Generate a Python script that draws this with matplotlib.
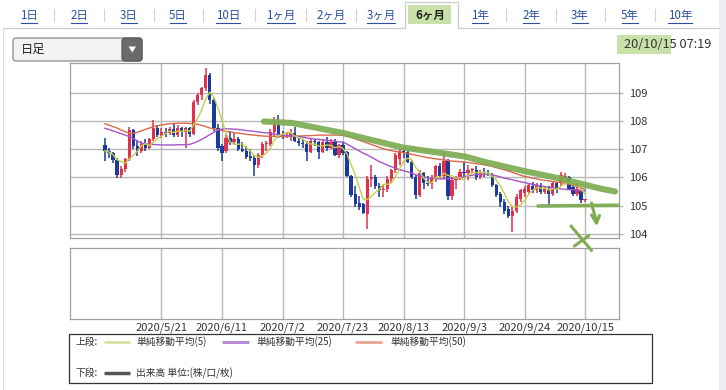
import numpy as np
import pandas as pd
import matplotlib
matplotlib.use("Agg")
import matplotlib.pyplot as plt
from matplotlib.patches import Rectangle, FancyBboxPatch, Polygon

plt.rcParams['font.family'] = ['Noto Sans CJK JP', 'DejaVu Sans']

# ---------------- data ----------------
dates = pd.bdate_range('2020-05-01', '2020-10-15')
opens = [107.15,106.95,106.85,106.62,106.10,106.30,106.65,107.68,107.12,106.92,
         107.20,107.05,107.35,107.75,107.52,107.62,107.58,107.72,107.52,107.75,
         107.60,107.75,107.55,108.68,108.92,109.15,109.62,108.75,107.75,107.10,
         106.92,107.38,107.25,107.35,107.02,106.95,106.75,106.70,106.45,106.78,
         107.18,107.20,107.60,107.90,107.50,107.45,107.45,107.58,107.30,107.22,
         107.20,106.90,107.30,107.25,106.90,107.25,107.05,107.25,106.80,107.15,
         106.90,106.05,105.40,105.10,105.05,104.72,105.95,106.00,105.70,105.55,
         105.60,105.95,106.25,106.65,106.92,106.90,106.55,106.02,105.38,106.15,
         105.80,105.78,105.95,106.40,106.05,106.60,105.35,105.90,105.95,106.20,
         106.15,106.25,106.28,106.00,106.20,106.15,106.10,105.72,105.40,105.15,
         104.90,104.65,104.83,105.25,105.45,105.50,105.70,105.55,105.70,105.49,
         105.60,105.40,105.79,105.80,106.00,106.02,105.67,105.43,105.55,105.19]
highs = [107.40,107.05,106.90,106.68,106.40,106.70,107.78,107.72,107.33,107.30,
         107.35,107.40,108.05,107.85,107.75,107.75,107.80,107.92,107.85,107.80,
         107.80,107.80,108.75,109.00,109.20,109.88,109.70,108.80,107.90,107.20,
         107.55,107.65,107.60,107.45,107.25,107.10,107.00,106.80,106.85,107.25,
         107.30,107.70,108.15,108.20,107.65,107.60,107.70,107.78,107.40,107.35,
         107.30,107.40,107.35,107.30,107.35,107.45,107.35,107.35,107.20,107.25,
         106.95,106.10,105.70,105.35,105.10,106.05,106.45,106.10,105.80,105.75,
         106.05,106.30,106.85,107.05,107.05,106.98,106.62,106.10,106.25,106.20,
         106.05,106.10,106.45,106.50,106.95,106.65,106.00,106.05,106.30,106.55,
         106.45,106.35,106.40,106.25,106.35,106.25,106.15,105.78,105.50,105.25,
         105.00,104.95,105.40,105.60,105.70,105.80,105.85,105.80,105.80,105.70,
         105.70,105.85,105.85,106.20,106.15,106.05,105.75,105.65,105.62,105.25]
lows = [106.60,106.70,106.50,105.98,105.98,106.20,106.60,107.00,106.75,106.85,
        106.95,107.00,107.30,107.45,107.40,107.45,107.50,107.45,107.45,107.45,
        107.05,107.45,107.50,108.55,108.75,109.05,108.60,107.65,106.95,106.60,
        106.85,107.15,107.15,106.95,106.90,106.65,106.60,106.05,106.35,106.70,
        106.95,107.10,107.45,107.40,107.35,107.40,107.30,107.25,107.10,107.05,
        106.60,106.85,107.10,106.65,106.85,106.95,107.00,106.75,106.70,106.80,
        106.00,105.30,104.95,104.85,104.70,104.18,105.65,105.60,105.30,105.30,
        105.50,105.80,106.15,106.45,106.70,106.50,105.95,105.25,105.30,105.60,
        105.70,105.60,105.85,105.95,105.95,105.20,105.20,105.60,105.90,106.05,
        105.90,106.15,105.90,105.95,106.00,106.05,105.65,105.30,104.95,104.70,
        104.55,104.06,104.75,105.15,105.30,105.40,105.45,105.45,105.40,105.40,
        104.95,105.35,105.45,105.70,105.85,105.55,105.35,105.35,105.10,105.15]
closes = [106.95,106.85,106.62,106.10,106.30,106.65,107.68,107.12,106.92,107.20,
          107.05,107.35,107.75,107.52,107.62,107.58,107.72,107.52,107.75,107.60,
          107.75,107.55,108.68,108.92,109.15,109.62,108.75,107.75,107.05,106.88,
          107.38,107.25,107.35,107.02,106.95,106.72,106.70,106.45,106.78,107.18,
          107.20,107.60,107.90,107.50,107.45,107.52,107.58,107.30,107.22,107.20,
          106.90,107.30,107.25,106.90,107.25,107.05,107.25,106.80,107.15,106.88,
          106.05,105.38,105.05,104.95,104.75,105.95,106.00,105.70,105.55,105.60,
          105.95,106.25,106.78,106.92,106.90,106.55,106.02,105.38,106.15,105.80,
          105.78,105.95,106.40,106.05,106.60,105.35,105.90,105.95,106.20,106.15,
          106.25,106.28,106.00,106.20,106.15,106.10,105.72,105.38,105.15,104.83,
          104.65,104.83,105.31,105.55,105.60,105.73,105.55,105.73,105.49,105.60,
          105.40,105.79,105.60,106.08,106.05,105.60,105.43,105.60,105.19,105.22]
ma25 = [107.74,107.70,107.65,107.60,107.55,107.50,107.45,107.38,107.30,107.22,
        107.19,107.17,107.17,107.16,107.15,107.15,107.15,107.15,107.16,107.16,
        107.16,107.17,107.22,107.28,107.35,107.43,107.52,107.60,107.68,107.71,
        107.72,107.72,107.71,107.70,107.68,107.66,107.65,107.63,107.61,107.59,
        107.58,107.56,107.54,107.52,107.50,107.48,107.47,107.46,107.45,107.43,
        107.40,107.38,107.36,107.35,107.33,107.31,107.30,107.28,107.26,107.25,
        107.18,107.10,107.02,106.94,106.86,106.80,106.72,106.64,106.56,106.50,
        106.44,106.38,106.33,106.28,106.24,106.20,106.15,106.10,106.06,106.02,
        105.99,105.97,105.96,105.95,105.95,105.96,105.97,105.99,106.01,106.03,
        106.06,106.08,106.10,106.12,106.12,106.11,106.09,106.06,106.02,105.98,
        105.95,105.92,105.88,105.85,105.82,105.79,105.76,105.73,105.70,105.68,
        105.66,105.64,105.62,105.60,105.58,105.57,105.56,105.55,105.53,105.52]
ma50 = [107.90,107.85,107.80,107.75,107.68,107.62,107.57,107.56,107.60,107.65,
        107.70,107.75,107.80,107.83,107.86,107.88,107.90,107.91,107.92,107.92,
        107.92,107.91,107.90,107.88,107.84,107.80,107.75,107.72,107.69,107.66,
        107.63,107.61,107.59,107.57,107.55,107.53,107.51,107.50,107.48,107.47,
        107.46,107.46,107.45,107.45,107.45,107.45,107.46,107.46,107.47,107.47,
        107.48,107.48,107.49,107.50,107.50,107.50,107.50,107.50,107.50,107.49,
        107.46,107.42,107.37,107.32,107.27,107.22,107.17,107.12,107.07,107.02,
        106.98,106.95,106.92,106.90,106.88,106.85,106.82,106.79,106.76,106.73,
        106.70,106.68,106.66,106.64,106.62,106.60,106.58,106.57,106.56,106.55,
        106.53,106.51,106.49,106.47,106.45,106.42,106.39,106.35,106.31,106.27,
        106.23,106.18,106.13,106.08,106.04,106.01,105.98,105.95,105.92,105.90,
        105.88,105.86,105.84,105.82,105.79,105.76,105.72,105.68,105.63,105.58]
tick_labels = ['2020/5/21', '2020/6/11', '2020/7/2', '2020/7/23',
               '2020/8/13', '2020/9/3', '2020/9/24', '2020/10/15']
price_ticks = [104, 105, 106, 107, 108, 109]
tabs = ['1日', '2日', '3日', '5日', '10日', '1ヶ月', '2ヶ月', '3ヶ月',
        '6ヶ月', '1年', '2年', '3年', '5年', '10年']
legend_labels = ['単純移動平均(5)', '単純移動平均(25)', '単純移動平均(50)']

# ---------------- figure ----------------
W, H = 726, 390
fig = plt.figure(figsize=(W / 100, H / 100), dpi=100)
fig.patch.set_facecolor('white')

idx = np.arange(len(dates))
o = np.array(opens); h = np.array(highs); l = np.array(lows); c = np.array(closes)
ma5 = pd.Series(closes).rolling(5, min_periods=1).mean().values
tick_idx = [dates.get_loc(pd.to_datetime(t, format='%Y/%m/%d')) for t in tick_labels]

def fr(x0, y0, x1, y1):
    return [x0 / W, 1 - y1 / H, (x1 - x0) / W, (y1 - y0) / H]

XL = (-8.67, 127.4)
GRID = '#b8b8b8'
RED = '#e3304a'
BLUE = '#1a3a9e'

# main price panel
ax = fig.add_axes(fr(70, 63, 619, 238))
ax.set_xlim(*XL)
ax.set_ylim(103.86, 110.05)
up = c >= o
dn = ~up
ax.vlines(idx[up], l[up], h[up], color=RED, lw=1.1, zorder=3)
ax.vlines(idx[dn], l[dn], h[dn], color=BLUE, lw=1.1, zorder=3)
body_b = np.minimum(o, c)
body_h = np.maximum(np.abs(c - o), 0.035)
ax.bar(idx[up], body_h[up], bottom=body_b[up], width=0.8, color=RED, zorder=4, linewidth=0)
ax.bar(idx[dn], body_h[dn], bottom=body_b[dn], width=0.8, color=BLUE, zorder=4, linewidth=0)
ax.plot(idx, ma50, color='#d8684a', lw=1.0, zorder=5)
ax.plot(idx, ma25, color='#a653c9', lw=1.0, zorder=5)
ax.plot(idx, ma5, color='#c4cf45', lw=1.0, zorder=5)

ax.set_yticks(price_ticks)
ax.set_yticklabels([str(v) for v in price_ticks])
ax.yaxis.tick_right()
ax.tick_params(axis='y', length=3, width=1, color=GRID, pad=4.5, labelsize=8, labelcolor='#333333')
ax.set_xticks(tick_idx)
ax.tick_params(axis='x', length=0, labelbottom=False)
ax.grid(True, color=GRID, lw=1.0, zorder=0)
ax.set_axisbelow(True)
for s in ax.spines.values():
    s.set_color('#a0a0a0'); s.set_linewidth(0.9)

# lower (volume) panel
ax2 = fig.add_axes(fr(70, 248, 619, 319))
ax2.set_xlim(*XL)
ax2.set_ylim(0, 1)
ax2.set_yticks([])
ax2.set_xticks(tick_idx)
ax2.set_xticklabels(tick_labels)
ax2.tick_params(axis='x', length=0, pad=2.5, labelsize=8, labelcolor='#333333')
ax2.grid(True, axis='x', color=GRID, lw=1.0)
for s in ax2.spines.values():
    s.set_color('#a0a0a0'); s.set_linewidth(0.9)

# ---------------- overlay (UI + hand annotations) ----------------
ov = fig.add_axes([0, 0, 1, 1], zorder=10)
ov.set_xlim(0, W); ov.set_ylim(H, 0)
ov.axis('off')
ov.patch.set_alpha(0)

# page frame
ov.add_patch(Rectangle((719, 0), 7, H, facecolor='#eceef4', edgecolor='none'))
ov.plot([3, 3], [28, H], color='#dcdcdc', lw=0.8)

# tab bar
tab_x = [29, 79, 129, 178, 228, 281, 331, 381, 430, 480, 531, 580, 630, 680]
ov.plot([3, 405], [28, 28], color='#cccccc', lw=0.9)
ov.plot([458, 719], [28, 28], color='#cccccc', lw=0.9)
ov.plot([405, 405, 458, 458], [28, 2, 2, 28], color='#cccccc', lw=0.9)
ov.add_patch(Rectangle((408, 5), 43, 19, facecolor='#c2dea0', edgecolor='none', alpha=0.9))
for k in range(len(tab_x) - 1):
    sx = (tab_x[k] + tab_x[k + 1]) / 2
    if k in (7, 8):
        continue
    ov.plot([sx, sx], [9, 21], color='#d0d0d0', lw=0.8)
tab_texts = []
for k, (t, x) in enumerate(zip(tabs, tab_x)):
    active = (t == '6ヶ月')
    tt = ov.text(x, 15, t, ha='center', va='center', fontsize=8.3,
                 color='#222222' if active else '#2c4f9e',
                 fontweight='bold' if active else 'normal')
    tab_texts.append((tt, active))

# dropdown
ov.add_patch(FancyBboxPatch((13, 38), 129, 23, boxstyle='round,pad=0,rounding_size=3',
                            facecolor='#f2f2f2', edgecolor='#8a8a8a', lw=0.9))
ov.add_patch(FancyBboxPatch((122, 38), 20, 23, boxstyle='round,pad=0,rounding_size=3',
                            facecolor='#6b6b6b', edgecolor='#5a5a5a', lw=0.9))
ov.add_patch(Polygon([(128.5, 46.5), (136, 46.5), (132.25, 52.5)], closed=True,
                     facecolor='white', edgecolor='none'))
ov.text(21, 49.5, '日足', ha='left', va='center', fontsize=8.8, color='#222222')

# timestamp
ov.add_patch(Rectangle((617, 35), 54, 19, facecolor='#c2dea0', edgecolor='none', alpha=0.9))
ov.text(711, 44.5, '20/10/15 07:19', ha='right', va='center', fontsize=9.2, color='#333333')

# legend box
ov.add_patch(Rectangle((69, 334), 583, 49, facecolor='none', edgecolor='#333333', lw=0.9))
ov.text(75, 342, '上段:', ha='left', va='center', fontsize=7, color='#333333')
leg_cols = ['#d6e2a2', '#b583d6', '#eaa594']
leg_line_x = [(104, 130), (222, 249), (355, 382)]
leg_text_x = [136, 256, 390]
for col, (a, b), tx, lab in zip(leg_cols, leg_line_x, leg_text_x, legend_labels):
    ov.plot([a, b], [342, 342], color=col, lw=2.0, solid_capstyle='butt')
    ov.text(tx, 342, lab, ha='left', va='center', fontsize=7, color='#333333')
ov.text(75, 373, '下段:', ha='left', va='center', fontsize=7, color='#333333')
ov.plot([104, 130], [373, 373], color='#555555', lw=2.5, solid_capstyle='butt')
ov.text(136, 373, '出来高 単位:(株/口/枚)', ha='left', va='center', fontsize=7, color='#333333')

# hand-drawn green annotations
GREEN = '#7dac52'
trend = [(264, 121.5), (292, 123), (343, 133), (390, 144.5), (403, 147.5), (465, 156.5),
         (485, 162), (524, 171), (560, 178.5), (600, 188.5), (615, 191.5)]
ov.plot([p[0] for p in trend], [p[1] for p in trend], color=GREEN, lw=4.4, alpha=0.92,
        solid_capstyle='round', solid_joinstyle='round')
ov.plot([538, 618], [206, 205.3], color=GREEN, lw=2.6, alpha=0.95, solid_capstyle='round')
ov.plot([591.5, 593, 595, 596.5], [203, 209, 216, 223], color=GREEN, lw=2.2, solid_capstyle='round')
ov.plot([591.5, 596.5, 599.5], [215, 223, 215.5], color=GREEN, lw=2.2, solid_capstyle='round',
        solid_joinstyle='round')
ov.plot([571, 591.5], [226, 250.5], color=GREEN, lw=2.2, solid_capstyle='round')
ov.plot([574.5, 589], [246, 235.5], color=GREEN, lw=2.2, solid_capstyle='round')

# underline link tabs
fig.canvas.draw()
r = fig.canvas.get_renderer()
for tt, active in tab_texts:
    if active:
        continue
    bb = tt.get_window_extent(r)
    ov.plot([bb.x0 + 0.5, bb.x1 - 0.5], [22.5, 22.5], color='#2c4f9e', lw=0.8)

fig.savefig('out.png', dpi=100, facecolor='white')
